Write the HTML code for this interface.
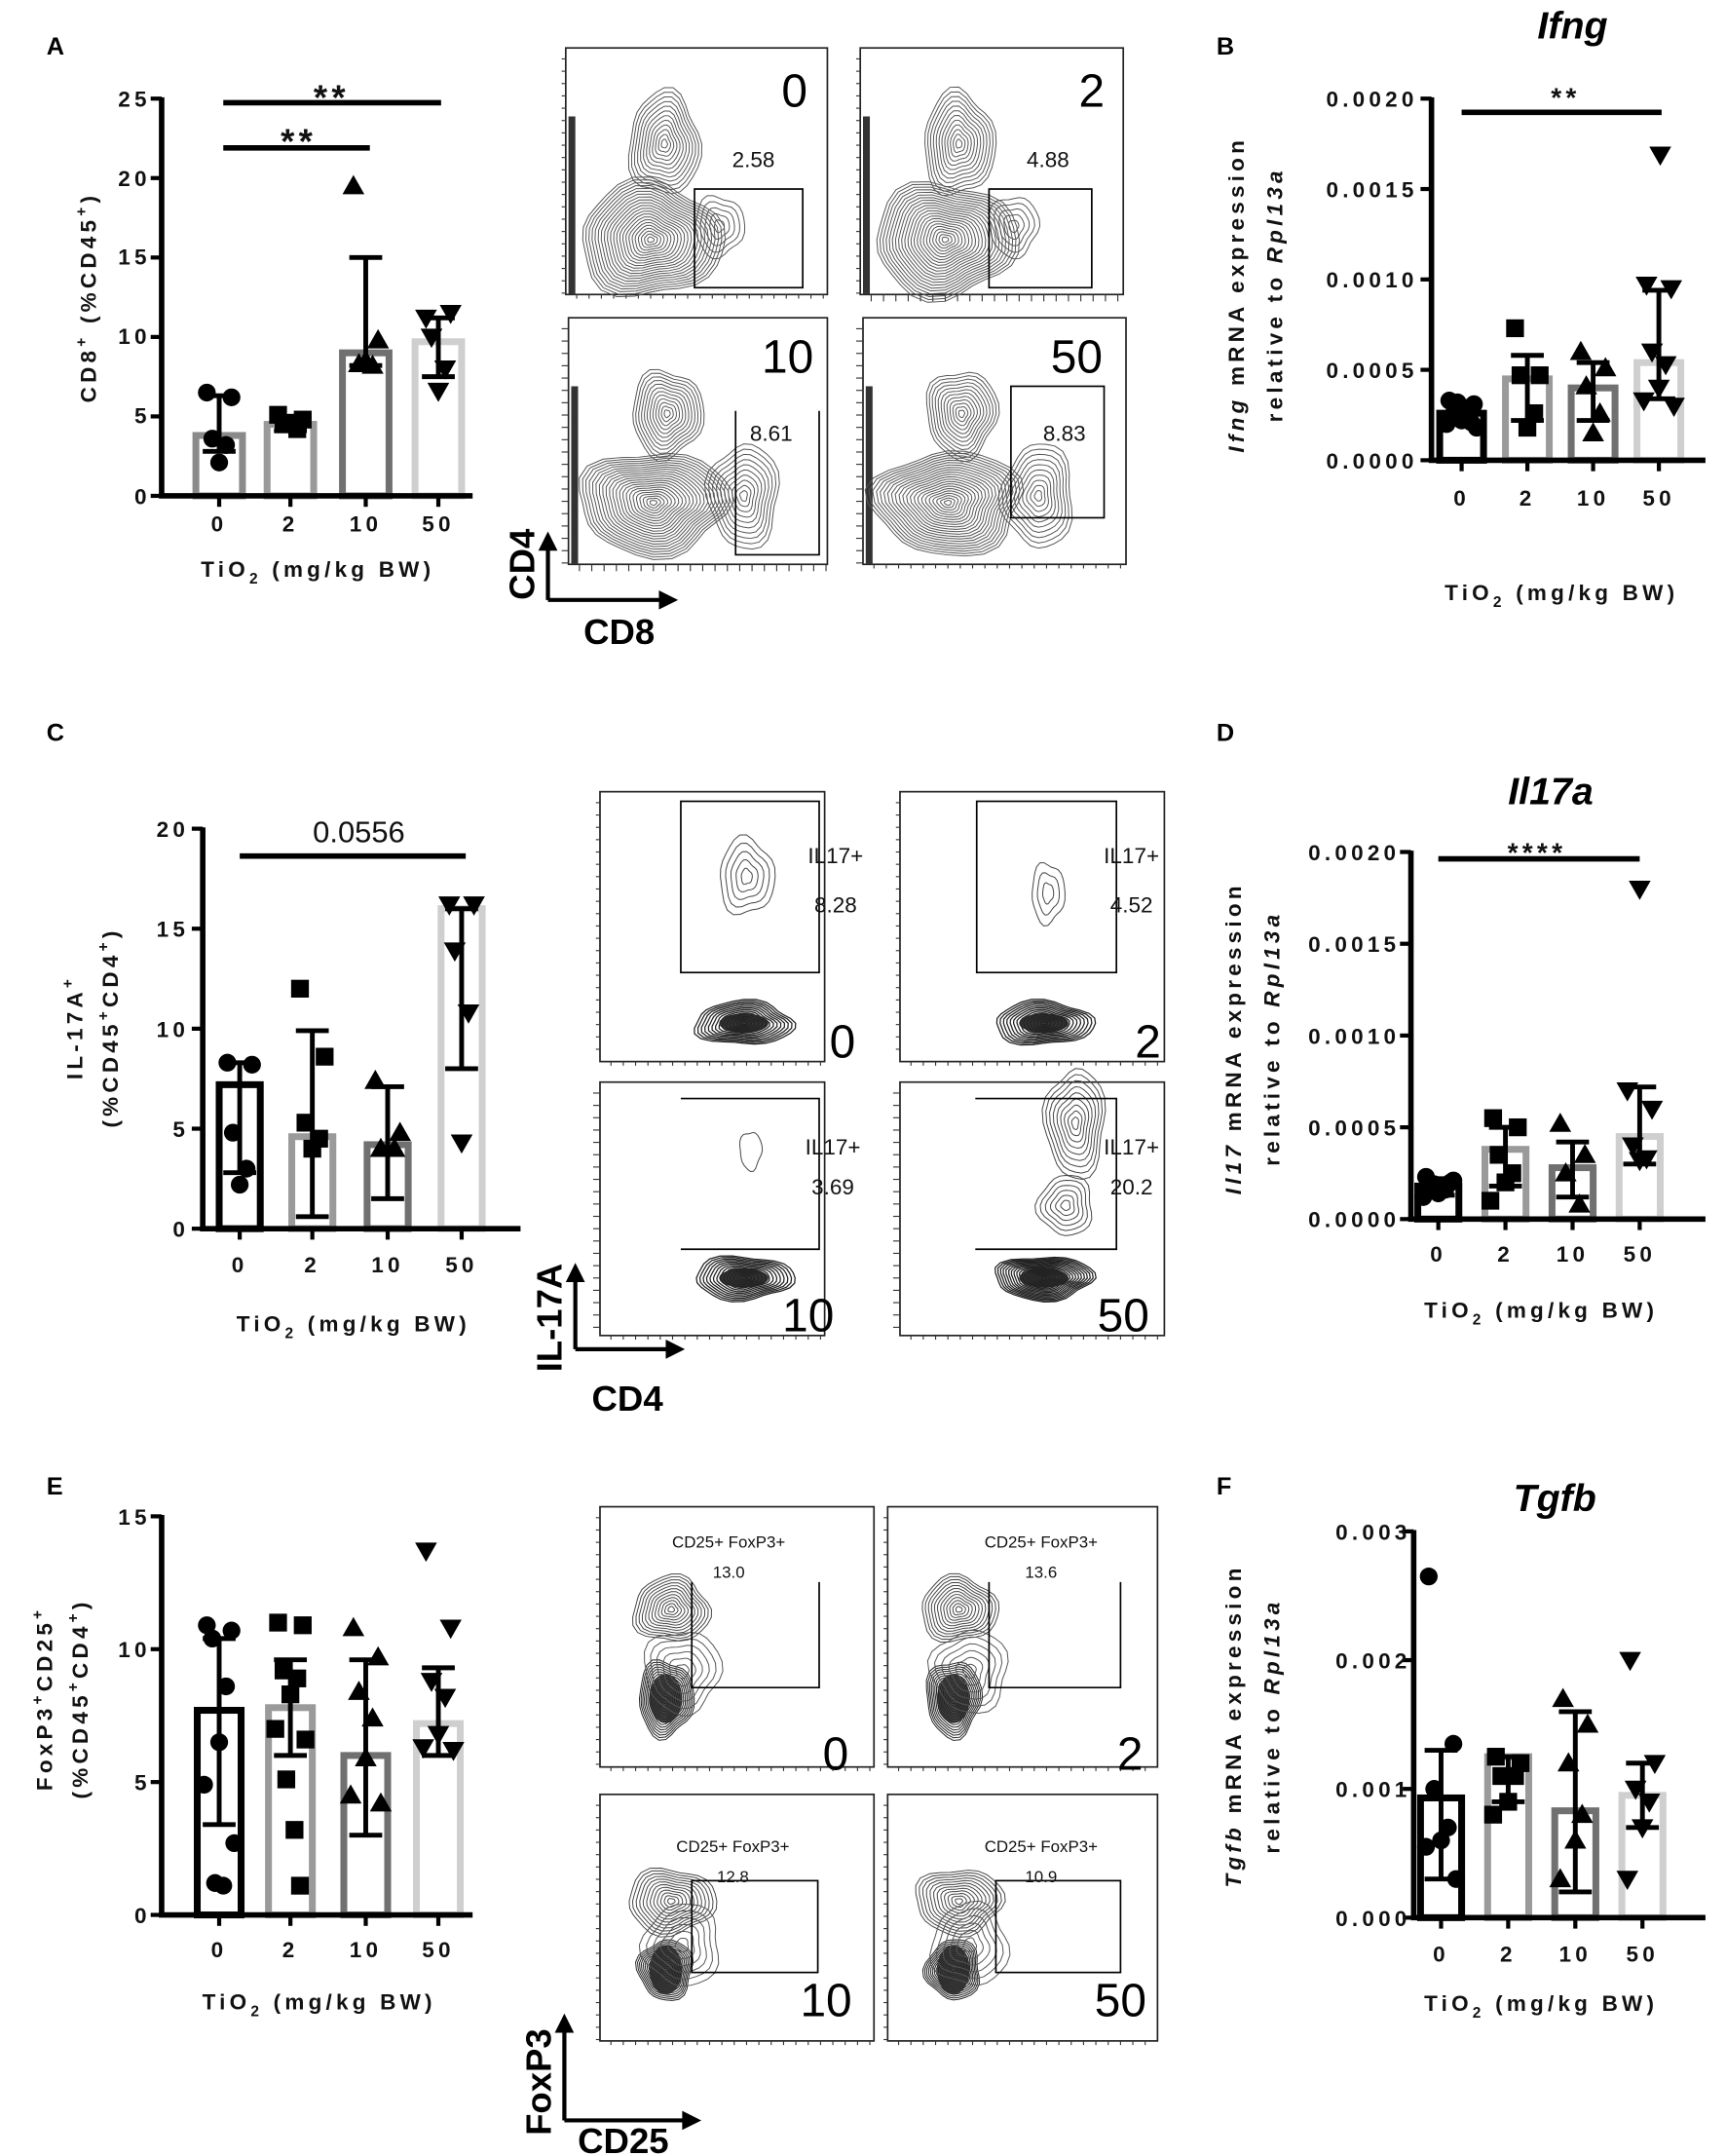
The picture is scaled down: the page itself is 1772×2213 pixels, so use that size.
<!DOCTYPE html>
<html><head><meta charset="utf-8"><style>
html,body{margin:0;padding:0;background:#fff;}
svg{display:block;}
.t{font-family:"Liberation Sans",sans-serif;font-weight:bold;font-size:16px;letter-spacing:3px;fill:#111;}
.lab{font-family:"Liberation Sans",sans-serif;font-weight:bold;font-size:18px;fill:#000;}
.big{font-family:"Liberation Sans Narrow","Liberation Sans",sans-serif;font-size:34px;fill:#000;}
.num{font-family:"Liberation Sans Narrow","Liberation Sans",sans-serif;font-size:16px;fill:#111;}
.ax{font-family:"Liberation Sans Narrow","Liberation Sans",sans-serif;font-weight:bold;font-size:26px;fill:#000;}
.ttl{font-family:"Liberation Sans",sans-serif;font-weight:bold;font-style:italic;font-size:28px;fill:#000;}
.small{font-family:"Liberation Sans",sans-serif;font-size:12px;fill:#111;}
</style></head><body>
<svg id="s" width="1772" height="2213" viewBox="0 0 1260 1574" preserveAspectRatio="none" xmlns="http://www.w3.org/2000/svg">
<g id="g"></g>
<text class="lab" x="34" y="40">A</text>
<text class="lab" x="888" y="40">B</text>
<text class="lab" x="34" y="541">C</text>
<text class="lab" x="888" y="541">D</text>
<text class="lab" x="34" y="1091">E</text>
<text class="lab" x="888" y="1091">F</text>
<text class="ttl" x="1148" y="28" text-anchor="middle">Ifng</text>
<text class="ttl" x="1132" y="587" text-anchor="middle">Il17a</text>
<text class="ttl" x="1135" y="1103" text-anchor="middle">Tgfb</text>

<g class="t" text-anchor="end">
<text x="110" y="78">25</text><text x="110" y="136">20</text><text x="110" y="193">15</text><text x="110" y="251">10</text><text x="110" y="309">5</text><text x="110" y="368">0</text>
</g>
<g class="t" text-anchor="middle">
<text x="160" y="388">0</text><text x="212" y="388">2</text><text x="267" y="388">10</text><text x="320" y="388">50</text>
<text x="232" y="421">TiO<tspan font-size="11" dy="5">2</tspan><tspan dy="-5"> (mg/kg BW)</tspan></text>
<text transform="translate(70,217) rotate(-90)">CD8<tspan font-size="11" dy="-7">+</tspan><tspan dy="7"> (%CD45</tspan><tspan font-size="11" dy="-7">+</tspan><tspan dy="7">)</tspan></text>
</g>
<text class="t" x="242" y="80" text-anchor="middle" style="font-size:26px">**</text>
<text class="t" x="218" y="112" text-anchor="middle" style="font-size:26px">**</text>

<g class="t" text-anchor="end">
<text x="1035" y="78">0.0020</text><text x="1035" y="144">0.0015</text><text x="1035" y="210">0.0010</text><text x="1035" y="276">0.0005</text><text x="1035" y="342">0.0000</text>
</g>
<g class="t" text-anchor="middle">
<text x="1067" y="369">0</text><text x="1115" y="369">2</text><text x="1163" y="369">10</text><text x="1211" y="369">50</text>
<text x="1140" y="438">TiO<tspan font-size="11" dy="5">2</tspan><tspan dy="-5"> (mg/kg BW)</tspan></text>
<text transform="translate(908,215) rotate(-90)"><tspan font-style="italic">Ifng</tspan> mRNA expression</text>
<text transform="translate(936,215) rotate(-90)">relative to <tspan font-style="italic">Rpl13a</tspan></text>
</g>
<text class="t" x="1143" y="78" text-anchor="middle" style="font-size:20px">**</text>

<g class="t" text-anchor="end">
<text x="138" y="611">20</text><text x="138" y="684">15</text><text x="138" y="757">10</text><text x="138" y="830">5</text><text x="138" y="903">0</text>
</g>
<g class="t" text-anchor="middle">
<text x="175" y="929">0</text><text x="228" y="929">2</text><text x="283" y="929">10</text><text x="337" y="929">50</text>
<text x="258" y="972">TiO<tspan font-size="11" dy="5">2</tspan><tspan dy="-5"> (mg/kg BW)</tspan></text>
<text transform="translate(60,750) rotate(-90)">IL-17A<tspan font-size="11" dy="-7">+</tspan></text>
<text transform="translate(86,750) rotate(-90)">(%CD45<tspan font-size="11" dy="-7">+</tspan><tspan dy="7">CD4</tspan><tspan font-size="11" dy="-7">+</tspan><tspan dy="7">)</tspan></text>
</g>
<text x="262" y="615" text-anchor="middle" style="font-family:'Liberation Sans',sans-serif;font-size:22px;fill:#111">0.0556</text>

<g class="t" text-anchor="end">
<text x="1022" y="628">0.0020</text><text x="1022" y="695">0.0015</text><text x="1022" y="762">0.0010</text><text x="1022" y="829">0.0005</text><text x="1022" y="896">0.0000</text>
</g>
<g class="t" text-anchor="middle">
<text x="1050" y="921">0</text><text x="1099" y="921">2</text><text x="1148" y="921">10</text><text x="1197" y="921">50</text>
<text x="1125" y="962">TiO<tspan font-size="11" dy="5">2</tspan><tspan dy="-5"> (mg/kg BW)</tspan></text>
<text transform="translate(906,758) rotate(-90)"><tspan font-style="italic">Il17</tspan> mRNA expression</text>
<text transform="translate(934,758) rotate(-90)">relative to <tspan font-style="italic">Rpl13a</tspan></text>
</g>
<text class="t" x="1122" y="629" text-anchor="middle" style="font-size:20px">****</text>

<g class="t" text-anchor="end">
<text x="110" y="1113">15</text><text x="110" y="1210">10</text><text x="110" y="1307">5</text><text x="110" y="1404">0</text>
</g>
<g class="t" text-anchor="middle">
<text x="160" y="1429">0</text><text x="212" y="1429">2</text><text x="267" y="1429">10</text><text x="320" y="1429">50</text>
<text x="233" y="1467">TiO<tspan font-size="11" dy="5">2</tspan><tspan dy="-5"> (mg/kg BW)</tspan></text>
<text transform="translate(38,1240) rotate(-90)">FoxP3<tspan font-size="11" dy="-7">+</tspan><tspan dy="7">CD25</tspan><tspan font-size="11" dy="-7">+</tspan></text>
<text transform="translate(64,1240) rotate(-90)">(%CD45<tspan font-size="11" dy="-7">+</tspan><tspan dy="7">CD4</tspan><tspan font-size="11" dy="-7">+</tspan><tspan dy="7">)</tspan></text>
</g>

<g class="t" text-anchor="end">
<text x="1030" y="1124">0.003</text><text x="1030" y="1218">0.002</text><text x="1030" y="1312">0.001</text><text x="1030" y="1406">0.000</text>
</g>
<g class="t" text-anchor="middle">
<text x="1052" y="1432">0</text><text x="1101" y="1432">2</text><text x="1150" y="1432">10</text><text x="1199" y="1432">50</text>
<text x="1125" y="1468">TiO<tspan font-size="11" dy="5">2</tspan><tspan dy="-5"> (mg/kg BW)</tspan></text>
<text transform="translate(906,1260) rotate(-90)"><tspan font-style="italic">Tgfb</tspan> mRNA expression</text>
<text transform="translate(934,1260) rotate(-90)">relative to <tspan font-style="italic">Rpl13a</tspan></text>
</g>

<text class="big" x="580" y="78" text-anchor="middle">0</text>
<text class="big" x="797" y="78" text-anchor="middle">2</text>
<text class="big" x="575" y="272" text-anchor="middle">10</text>
<text class="big" x="786" y="272" text-anchor="middle">50</text>
<text class="num" x="550" y="122" text-anchor="middle">2.58</text>
<text class="num" x="765" y="122" text-anchor="middle">4.88</text>
<text class="num" x="563" y="322" text-anchor="middle">8.61</text>
<text class="num" x="777" y="322" text-anchor="middle">8.83</text>
<text class="ax" transform="translate(390,412) rotate(-90)" text-anchor="middle">CD4</text>
<text class="ax" x="452" y="470" text-anchor="middle">CD8</text>

<g class="num" text-anchor="middle">
<text x="610" y="630">IL17+</text><text x="610" y="666">8.28</text>
<text x="826" y="630">IL17+</text><text x="826" y="666">4.52</text>
<text x="608" y="843">IL17+</text><text x="608" y="872">3.69</text>
<text x="826" y="843">IL17+</text><text x="826" y="872">20.2</text>
</g>
<text class="big" x="615" y="772" text-anchor="middle">0</text>
<text class="big" x="838" y="772" text-anchor="middle">2</text>
<text class="big" x="590" y="972" text-anchor="middle">10</text>
<text class="big" x="820" y="972" text-anchor="middle">50</text>
<text class="ax" transform="translate(410,962) rotate(-90)" text-anchor="middle">IL-17A</text>
<text class="ax" x="458" y="1030" text-anchor="middle">CD4</text>

<g class="small" text-anchor="middle">
<text x="532" y="1130">CD25+ FoxP3+</text><text x="532" y="1152">13.0</text>
<text x="760" y="1130">CD25+ FoxP3+</text><text x="760" y="1152">13.6</text>
<text x="535" y="1352">CD25+ FoxP3+</text><text x="535" y="1374">12.8</text>
<text x="760" y="1352">CD25+ FoxP3+</text><text x="760" y="1374">10.9</text>
</g>
<text class="big" x="610" y="1292" text-anchor="middle">0</text>
<text class="big" x="825" y="1292" text-anchor="middle">2</text>
<text class="big" x="603" y="1472" text-anchor="middle">10</text>
<text class="big" x="818" y="1472" text-anchor="middle">50</text>
<text class="ax" transform="translate(402,1520) rotate(-90)" text-anchor="middle">FoxP3</text>
<text class="ax" x="455" y="1572" text-anchor="middle">CD25</text>
</svg>
<script>
(function(){
var NS="http://www.w3.org/2000/svg",G=document.getElementById('g');
function el(n,a){var e=document.createElementNS(NS,n);for(var k in a)e.setAttribute(k,a[k]);G.appendChild(e);return e;}
function line(x1,y1,x2,y2,w,c){el('line',{x1:x1,y1:y1,x2:x2,y2:y2,stroke:c||'#000','stroke-width':w||1});}
function marker(t,x,y){
 if(t=='c')el('circle',{cx:x,cy:y,r:6.5,fill:'#000'});
 else if(t=='s')el('rect',{x:x-6.5,y:y-6.5,width:13,height:13,fill:'#000'});
 else if(t=='u')el('polygon',{points:(x)+','+(y-8)+' '+(x-8)+','+(y+6)+' '+(x+8)+','+(y+6),fill:'#000'});
 else el('polygon',{points:(x)+','+(y+8)+' '+(x-8)+','+(y-6)+' '+(x+8)+','+(y-6),fill:'#000'});
}
var OFF=[-9,9,-5,5,0,-11,11,-3,3,7];
function chart(c){
 var y0=c.y0,p=c.ppu;
 c.bars.forEach(function(b){
  var h=b.v*p;el('rect',{x:b.x-c.bw/2,y:y0-h,width:c.bw,height:h,fill:'#fff',stroke:b.col,'stroke-width':5});
 });
 c.bars.forEach(function(b){
  b.pts.forEach(function(v,i){marker(b.m,b.x+OFF[i%OFF.length],y0-v*p);});
  var lo=y0-b.e[0]*p,hi=y0-b.e[1]*p;
  line(b.x,lo,b.x,hi,3.5);line(b.x-12,lo,b.x+12,lo,3.5);line(b.x-12,hi,b.x+12,hi,3.5);
 });
 line(c.ax,y0,c.ax,c.top-1,4);line(c.ax-2,y0,c.xe,y0,4);
 c.ticks.forEach(function(t){line(c.ax-8,y0-t*p,c.ax,y0-t*p,3);});
 c.bars.forEach(function(b){line(b.x,y0,b.x,y0+8,3);});
 if(c.sig)c.sig.forEach(function(s){line(s[0],s[2],s[1],s[2],4);});
}
chart({ax:118,y0:362,ppu:11.6,top:72,xe:345,bw:34,ticks:[0,5,10,15,20,25],
 bars:[{x:160,v:3.8,col:'#8a8a8a',m:'c',pts:[6.5,6.2,3.6,3.2,2.1],e:[2.8,6.3]},
 {x:212,v:4.5,col:'#9a9a9a',m:'s',pts:[5.1,4.8,4.5,4.2,4.6],e:[4.1,5.0]},
 {x:267,v:9,col:'#707070',m:'u',pts:[19.5,9.8,8.3,8.2,8.5],e:[8.2,15]},
 {x:320,v:9.7,col:'#cfcfcf',m:'d',pts:[11.2,11.5,10,8,6.6],e:[7.5,11.2]}],
 sig:[[163,322,75],[163,270,108]]});
chart({ax:1045,y0:336,ppu:132000,top:72,xe:1245,bw:32,ticks:[0,0.0005,0.001,0.0015,0.002],
 bars:[{x:1067,v:0.00026,col:'#000',m:'c',pts:[0.00033,0.00031,0.00028,0.00025,0.00022,0.0002,0.00018,0.00032,0.00029,0.00021],e:[0.00021,0.00031]},
 {x:1115,v:0.00045,col:'#9a9a9a',m:'s',pts:[0.00073,0.00047,0.00047,0.00026,0.00018],e:[0.00022,0.00058]},
 {x:1163,v:0.0004,col:'#707070',m:'u',pts:[0.0006,0.00051,0.00041,0.00026,0.00015],e:[0.00022,0.00054]},
 {x:1211,v:0.00054,col:'#cfcfcf',m:'d',pts:[0.00097,0.00095,0.0006,0.00053,0.0004,0.00033,0.0003],e:[0.00034,0.00094]}],
 sig:[[1067,1213,82]]});
marker('d',1212,113);
chart({ax:148,y0:897,ppu:14.6,top:605,xe:380,bw:30,ticks:[0,5,10,15,20],
 bars:[{x:175,v:7.2,col:'#000',m:'c',pts:[8.3,8.2,4.8,3.0,2.2],e:[2.8,8.3]},
 {x:228,v:4.6,col:'#9a9a9a',m:'s',pts:[12,8.6,5.3,4.5,4.0],e:[0.6,9.9]},
 {x:283,v:4.2,col:'#707070',m:'u',pts:[7.4,4.8,4.0,4.0],e:[1.5,7.1]},
 {x:337,v:16,col:'#cfcfcf',m:'d',pts:[16.2,16.2,13.9,10.8,4.3],e:[8,16]}],
 sig:[[175,340,625]]});
chart({ax:1030,y0:890,ppu:134000,top:622,xe:1245,bw:30,ticks:[0,0.0005,0.001,0.0015,0.002],
 bars:[{x:1050,v:0.00018,col:'#000',m:'c',pts:[0.00023,0.0002,0.00018,0.00016,0.00014,0.00012,0.00021,0.00019],e:[0.00013,0.00022]},
 {x:1099,v:0.00038,col:'#9a9a9a',m:'s',pts:[0.00055,0.0005,0.00035,0.00025,0.0002,0.0001],e:[0.00018,0.0005]},
 {x:1148,v:0.00028,col:'#707070',m:'u',pts:[0.00052,0.00035,0.00025,0.00008],e:[0.00012,0.00042]},
 {x:1197,v:0.00045,col:'#cfcfcf',m:'d',pts:[0.0007,0.0006,0.0004,0.00033,0.00032],e:[0.0003,0.00072]}],
 sig:[[1050,1197,627]]});
marker('d',1197,649);
chart({ax:118,y0:1398,ppu:19.4,top:1107,xe:345,bw:32,ticks:[0,5,10,15],
 bars:[{x:160,v:7.7,col:'#000',m:'c',pts:[10.9,10.7,10.4,8.6,6.5,4.9,2.7,1.2,1.1],e:[3.4,10.4]},
 {x:212,v:7.8,col:'#9a9a9a',m:'s',pts:[11,10.9,9.2,8.9,8.3,7.0,6.6,5.1,3.2,1.1],e:[6,9.6]},
 {x:267,v:6.0,col:'#707070',m:'u',pts:[10.8,9.7,8.4,7.4,5.9,4.5,4.2],e:[3,9.6]},
 {x:320,v:7.2,col:'#cfcfcf',m:'d',pts:[13.7,10.8,8.8,8.2,6.8,6.3,6.2],e:[6,9.3]}]});
chart({ax:1032,y0:1400,ppu:94000,top:1118,xe:1245,bw:30,ticks:[0,0.001,0.002,0.003],
 bars:[{x:1052,v:0.00093,col:'#000',m:'c',pts:[0.00265,0.00135,0.001,0.0007,0.0006,0.00055,0.0003],e:[0.0003,0.0013]},
 {x:1101,v:0.00125,col:'#9a9a9a',m:'s',pts:[0.00125,0.0012,0.0011,0.0011,0.0009,0.0008],e:[0.0009,0.00125]},
 {x:1150,v:0.00083,col:'#707070',m:'u',pts:[0.0017,0.0015,0.0012,0.0008,0.0006,0.0003],e:[0.0002,0.0016]},
 {x:1199,v:0.00095,col:'#cfcfcf',m:'d',pts:[0.002,0.0012,0.001,0.0009,0.0007,0.0003],e:[0.0007,0.0012]}]});

function rings(cx,cy,rx,ry,n,seed,col,w){
 for(var i=1;i<=n;i++){var s=i/n,d='';
  for(var k=0;k<=28;k++){var a=k/28*Math.PI*2,r=1+0.08*Math.sin(3*a+seed)+0.05*Math.cos(5*a+seed*2);
   var x=cx+Math.cos(a)*rx*s*r,y=cy+Math.sin(a)*ry*s*r;d+=(k?'L':'M')+x.toFixed(1)+','+y.toFixed(1);}
  el('path',{d:d+'Z',fill:'none',stroke:col||'#444','stroke-width':w||0.7});}
}
function frame(x1,y1,x2,y2){
 el('rect',{x:x1,y:y1,width:x2-x1,height:y2-y1,fill:'none',stroke:'#222','stroke-width':1.2});
 for(var t=x1+8;t<x2;t+=9)line(t,y2,t,y2+(t%3?3:5),0.8,'#333');
 for(var t=y1+8;t<y2;t+=9)line(x1-(t%3?3:5),t,x1,t,0.8,'#333');
}
function arrow(x0,y0,yt,xt){
 line(x0,y0,x0,yt+12,3);line(x0,y0,xt-12,y0,3);
 el('polygon',{points:x0+','+yt+' '+(x0-7)+','+(yt+14)+' '+(x0+7)+','+(yt+14),fill:'#000'});
 el('polygon',{points:xt+','+y0+' '+(xt-14)+','+(y0-7)+' '+(xt-14)+','+(y0+7),fill:'#000'});
}
[[413,35,604,215,0],[628,35,820,215,1],[415,232,604,412,2],[630,232,822,412,3]].forEach(function(p){
 var x=p[0],y=p[1];frame(p[0],p[1],p[2],p[3]);
 el('rect',{x:x+2,y:y+50,width:5,height:130,fill:'#333'});
 var bt=p[4]>1;
 rings(x+72,y+70,26,bt?32:38,12,p[4],'#555');
 rings(x+62,y+(bt?135:140),bt?55:52,bt?38:42,22,p[4]+1,'#555');
 rings(x+(bt?128:112),y+(bt?130:130),bt?26:18,bt?38:22,bt?10:5,p[4]+2,'#555');
});
el('rect',{x:507,y:138,width:79,height:72,fill:'none',stroke:'#000','stroke-width':1.2});
el('rect',{x:722,y:138,width:75,height:72,fill:'none',stroke:'#000','stroke-width':1.2});
el('polyline',{points:'537,300 537,405 598,405 598,300',fill:'none',stroke:'#000','stroke-width':1.2});
el('rect',{x:738,y:282,width:68,height:96,fill:'none',stroke:'#000','stroke-width':1.2});
arrow(400,438,388,495);
[[438,578,602,775],[657,578,850,775],[438,790,602,975],[657,790,850,975]].forEach(function(p,i){
 frame(p[0],p[1],p[2],p[3]);
 var cx=p[0]+105,cy=p[3]-(i<2?28:42);
 el('ellipse',{cx:cx,cy:cy,rx:18,ry:7,fill:'#333'});
 rings(cx,cy,36,16,i==3?18:14,i,'#222',0.9);
});
rings(545,640,20,28,5,1);rings(765,652,12,22,3,2);rings(548,840,8,14,1,3);
rings(785,820,22,40,9,4);rings(778,880,20,22,6,5);
el('rect',{x:497,y:585,width:101,height:125,fill:'none',stroke:'#000','stroke-width':1.2});
el('rect',{x:713,y:585,width:102,height:125,fill:'none',stroke:'#000','stroke-width':1.2});
el('polyline',{points:'497,912 598,912 598,802 497,802',fill:'none',stroke:'#000','stroke-width':1.2});
el('polyline',{points:'712,912 815,912 815,802 712,802',fill:'none',stroke:'#000','stroke-width':1.2});
arrow(420,985,922,500);
[[438,1100,638,1290],[648,1100,845,1290],[438,1310,638,1490],[648,1310,845,1490]].forEach(function(p,i){
 frame(p[0],p[1],p[2],p[3]);
 var top=i<2;
 rings(p[0]+52,p[1]+(top?75:78),top?28:32,24,12,i,'#444');
 el('ellipse',{cx:p[0]+48,cy:p[1]+(top?140:128),rx:12,ry:18,fill:'#444'});
 rings(p[0]+48,p[1]+(top?140:128),20,top?28:22,16,i+2,'#222');
 rings(p[0]+60,p[1]+(top?120:110),28,30,6,i+3,'#555');
});
el('polyline',{points:'505,1155 505,1232 598,1232 598,1155',fill:'none',stroke:'#000','stroke-width':1.2});
el('polyline',{points:'722,1155 722,1232 818,1232 818,1155',fill:'none',stroke:'#000','stroke-width':1.2});
el('rect',{x:505,y:1373,width:92,height:67,fill:'none',stroke:'#000','stroke-width':1.2});
el('rect',{x:727,y:1373,width:91,height:67,fill:'none',stroke:'#000','stroke-width':1.2});
arrow(412,1548,1470,512);
})();
</script>
</body></html>
